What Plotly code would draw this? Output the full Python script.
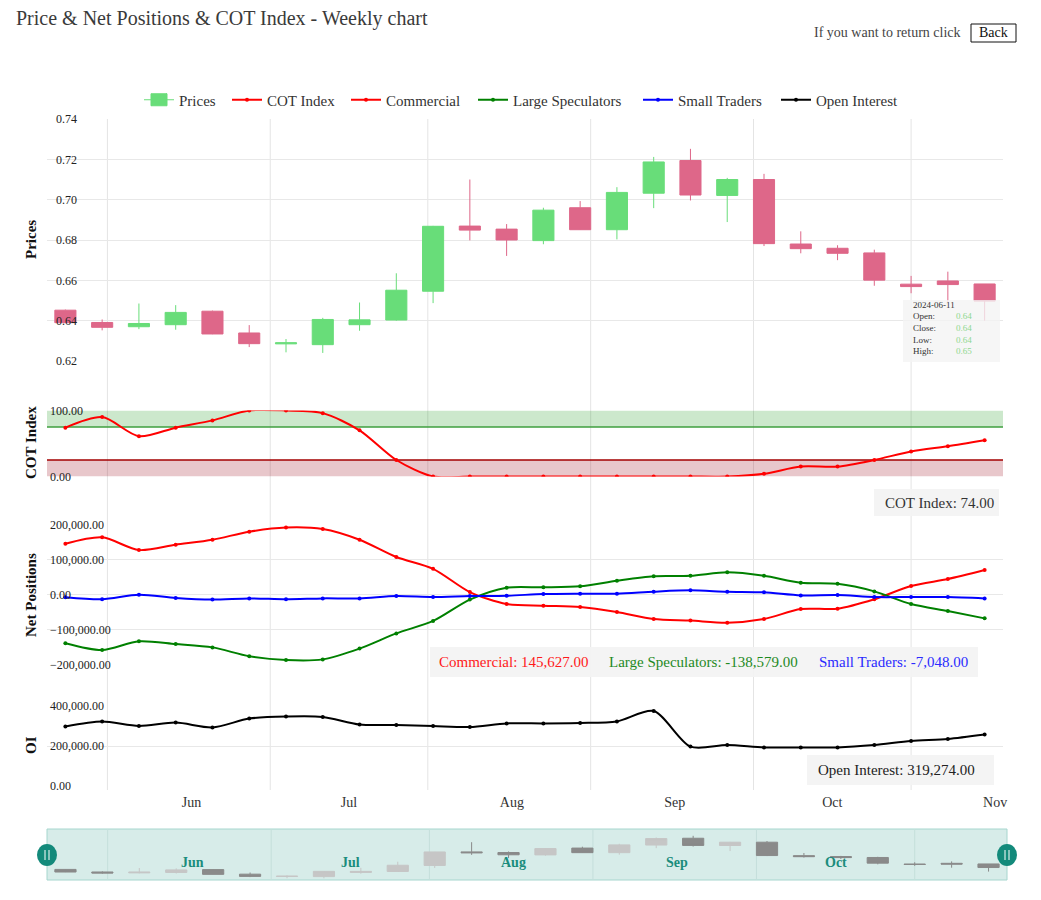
import plotly.graph_objects as go

W, H = 1041, 900
FONT = "Liberation Serif"

# ---------------- data ----------------
dates = ["2024-05-08", "2024-05-15", "2024-05-22", "2024-05-29", "2024-06-05", "2024-06-12",
         "2024-06-19", "2024-06-26", "2024-07-03", "2024-07-10", "2024-07-17", "2024-07-24",
         "2024-07-31", "2024-08-07", "2024-08-14", "2024-08-21", "2024-08-28", "2024-09-04",
         "2024-09-11", "2024-09-18", "2024-09-25", "2024-10-02", "2024-10-09", "2024-10-16",
         "2024-10-23", "2024-10-30"]

price_open = [0.6452, 0.6391, 0.6370, 0.6380, 0.6447, 0.6339, 0.6285, 0.6281, 0.6380, 0.6403,
              0.6546, 0.6869, 0.6854, 0.6797, 0.6960, 0.6851, 0.7032, 0.7194, 0.7021, 0.7100,
              0.6780, 0.6759, 0.6736, 0.6581, 0.6597, 0.6582]
price_close = [0.6390, 0.6367, 0.6386, 0.6441, 0.6334, 0.6286, 0.6290, 0.6406, 0.6404, 0.6551,
               0.6868, 0.6849, 0.6800, 0.6948, 0.6851, 0.7036, 0.7187, 0.7023, 0.7100, 0.6782,
               0.6757, 0.6734, 0.6601, 0.6569, 0.6579, 0.6497]
price_high = [0.6455, 0.6406, 0.6485, 0.6477, 0.6450, 0.6378, 0.6309, 0.6414, 0.6490, 0.6635,
              0.6870, 0.7100, 0.6879, 0.6960, 0.6993, 0.7062, 0.7212, 0.7252, 0.7108, 0.7128,
              0.6843, 0.6774, 0.6752, 0.6622, 0.6643, 0.6582]
price_low = [0.6388, 0.6352, 0.6358, 0.6355, 0.6333, 0.6269, 0.6243, 0.6240, 0.6350, 0.6400,
             0.6487, 0.6798, 0.6721, 0.6779, 0.6850, 0.6803, 0.6958, 0.6996, 0.6889, 0.6770,
             0.6734, 0.6700, 0.6573, 0.6536, 0.6493, 0.6400]

cot_index = [74, 90, 61, 74, 85, 100, 100, 96, 70, 25, 0, 0, 0, 0, 0, 0, 0, 0, 0,
             4, 15, 15, 25, 38, 46, 55]

commercial = [145627, 163800, 127600, 142900, 157000, 180000, 192000, 187600, 157000, 107600,
              74000, 7600, -26700, -31400, -35000, -49500, -69500, -74000, -80000, -69500,
              -41000, -40000, -13000, 24800, 44800, 70500]
large_spec = [-138579, -158000, -133000, -141000, -150500, -176000, -186700, -184800, -154000,
              -110500, -75000, -14000, 20000, 21000, 24000, 40000, 53000, 54000, 64000, 54000,
              34000, 31000, 9500, -26700, -46700, -67600]
small_traders = [-7048, -13000, 0, -9500, -14000, -10500, -13000, -10500, -10500, -4000, -6700,
                 -4000, -3000, 2000, 3000, 3000, 8600, 12400, 8600, 6700, -2000, -1000, -6700,
                 -6700, -6700, -10500]
open_interest = [298000, 322000, 300000, 317000, 293000, 337000, 347000, 345000, 307000, 305000,
                 300000, 295000, 313000, 313000, 315000, 323000, 375000, 197000, 205000, 193000,
                 193000, 193000, 205000, 225000, 235000, 257000]

month_ticks = ["2024-06-01", "2024-07-01", "2024-08-01", "2024-09-01", "2024-10-01", "2024-11-01"]
month_labels = ["Jun", "Jul", "Aug", "Sep", "Oct", "Nov"]
grid_dates = ["2024-05-16", "2024-06-16", "2024-07-16", "2024-08-16", "2024-09-16", "2024-10-16"]

price_ticks = [0.62, 0.64, 0.66, 0.68, 0.70, 0.72, 0.74]
net_ticks = [-200000, -100000, 0, 100000, 200000]
oi_ticks = [0, 200000, 400000]

# ---------------- helpers ----------------
def PX(p):
    return p / W

def PY(p):
    return 1 - p / H

GREEN = "#68dd79"
PINK = "#de6789"
XR = ["2024-05-04 12:00", "2024-11-02 12:00"]

fig = go.Figure()

fig.add_trace(go.Candlestick(
    x=dates, open=price_open, high=price_high, low=price_low, close=price_close,
    name="Prices", xaxis="x", yaxis="y", whiskerwidth=0, hoverinfo="skip", showlegend=False,
    increasing=dict(fillcolor=GREEN, line=dict(color=GREEN, width=1)),
    decreasing=dict(fillcolor=PINK, line=dict(color=PINK, width=1)),
))

# legend-only entry for Prices (all green icon), placed outside the slider's visible range
fig.add_trace(go.Candlestick(
    x=["2020-01-01"], open=[0.65], high=[0.66], low=[0.64], close=[0.655],
    name="Prices", xaxis="x5", yaxis="y5", whiskerwidth=0, hoverinfo="skip", legend="legend",
    increasing=dict(fillcolor=GREEN, line=dict(color=GREEN, width=1)),
    decreasing=dict(fillcolor=GREEN, line=dict(color=GREEN, width=1)),
))


def line_trace(y, name, color, xa, ya, leg):
    return go.Scatter(
        x=dates, y=y, name=name, mode="lines+markers", xaxis=xa, yaxis=ya, legend=leg,
        line=dict(color=color, width=2, shape="spline", smoothing=0.8),
        marker=dict(size=4, color=color), hoverinfo="skip",
    )

fig.add_trace(line_trace(cot_index, "COT Index", "#ff0000", "x2", "y2", "legend2"))
fig.add_trace(line_trace(commercial, "Commercial", "#ff0000", "x3", "y3", "legend3"))
fig.add_trace(line_trace(large_spec, "Large Speculators", "#008000", "x3", "y3", "legend4"))
fig.add_trace(line_trace(small_traders, "Small Traders", "#0000ff", "x3", "y3", "legend5"))
fig.add_trace(line_trace(open_interest, "Open Interest", "#000000", "x4", "y4", "legend6"))

# mini candles in the zoom slider
fig.add_trace(go.Candlestick(
    x=dates, open=price_open, high=price_high, low=price_low, close=price_close,
    name="slider", xaxis="x5", yaxis="y5", whiskerwidth=0, hoverinfo="skip", showlegend=False,
    increasing=dict(fillcolor="#c6c6c6", line=dict(color="#c6c6c6", width=1)),
    decreasing=dict(fillcolor="#8a8a8a", line=dict(color="#8a8a8a", width=1)),
))

xdom = [PX(47), PX(1003)]
common_x = dict(domain=xdom, range=XR, type="date", showgrid=False, zeroline=False,
                showline=False, ticks="", rangeslider=dict(visible=False))
ytick_font = dict(family=FONT, size=12, color="#222")
common_y = dict(zeroline=False, showline=False, ticks="", ticklabelposition="inside",
                ticklabeloverflow="allow", tickfont=ytick_font, gridcolor="#e8e8e8", gridwidth=1)

legend_font = dict(family=FONT, size=15, color="#333")
legend_x = [139, 227, 346, 473, 638, 776]   # left edges (px) of each legend entry
legends = {}
for i, lx in enumerate(legend_x):
    key = "legend" if i == 0 else f"legend{i + 1}"
    legends[key] = dict(orientation="h", x=PX(lx), xref="container", xanchor="left",
                        y=PY(100), yref="container", yanchor="middle", font=legend_font,
                        bgcolor="rgba(0,0,0,0)", borderwidth=0)

layout = dict(
    width=W, height=H, margin=dict(l=0, r=0, t=0, b=0, autoexpand=False),
    paper_bgcolor="white", plot_bgcolor="rgba(0,0,0,0)",
    font=dict(family=FONT, color="#333"),
    boxgap=0.18,
    showlegend=True,
    title=dict(text="Price & Net Positions & COT Index - Weekly chart", x=PX(16), xref="container",
               xanchor="left", y=PY(18), yref="container", yanchor="middle",
               font=dict(family=FONT, size=20, color="#3a3a3a")),
    xaxis=dict(common_x, anchor="y", showticklabels=False),
    xaxis2=dict(common_x, anchor="y2", matches="x", showticklabels=False),
    xaxis3=dict(common_x, anchor="y3", matches="x", showticklabels=False),
    xaxis4=dict(common_x, anchor="y4", matches="x", tickmode="array", tickvals=month_ticks,
                ticktext=month_labels, ticklabelstandoff=6,
                tickfont=dict(family=FONT, size=14, color="#333")),
    xaxis5=dict(common_x, domain=[PX(47), PX(1007)], anchor="y5", showticklabels=False),
    yaxis=dict(common_y, domain=[PY(361), PY(119)], range=[0.62, 0.74], anchor="x",
               tickmode="array", tickvals=price_ticks, tickformat=".2f", showgrid=True,
               ticklabelstandoff=6),
    yaxis2=dict(common_y, domain=[PY(476.5), PY(410.5)], range=[0, 100], anchor="x2",
                tickmode="array", tickvals=[0, 100], tickformat=".2f", showgrid=False),
    yaxis3=dict(common_y, domain=[PY(664.7), PY(524.7)], range=[-200000, 200000], anchor="x3",
                tickmode="array", tickvals=net_ticks, tickformat=",.2f", showgrid=True),
    yaxis4=dict(common_y, domain=[PY(786), PY(706)], range=[0, 400000], anchor="x4",
                tickmode="array", tickvals=oi_ticks, tickformat=",.2f", showgrid=True),
    yaxis5=dict(domain=[PY(880), PY(829)], range=[0.62, 0.7414], anchor="x5",
                showgrid=False, zeroline=False, showticklabels=False, ticks=""),
)
layout.update(legends)
fig.update_layout(**layout)

shapes = []
# vertical grid lines
for d in grid_dates:
    shapes.append(dict(type="line", xref="x4", yref="paper", x0=d, x1=d, y0=PY(790), y1=PY(119),
                       line=dict(color="#e4e4e4", width=1), layer="below"))
# COT bands
shapes.append(dict(type="rect", xref="x2 domain", yref="y2", x0=0, x1=1, y0=75, y1=100,
                   fillcolor="rgba(0,140,0,0.2)", line=dict(width=0), layer="below"))
shapes.append(dict(type="line", xref="x2 domain", yref="y2", x0=0, x1=1, y0=75, y1=75,
                   line=dict(color="#3f9f3f", width=1.5), layer="below"))
shapes.append(dict(type="rect", xref="x2 domain", yref="y2", x0=0, x1=1, y0=0, y1=25,
                   fillcolor="rgba(150,0,20,0.22)", line=dict(width=0), layer="below"))
shapes.append(dict(type="line", xref="x2 domain", yref="y2", x0=0, x1=1, y0=25, y1=25,
                   line=dict(color="#a30000", width=1.5), layer="below"))


def box(x0, y0, x1, y1, fill="rgba(243,243,243,0.92)"):
    return dict(type="rect", xref="paper", yref="paper", x0=PX(x0), x1=PX(x1), y0=PY(y1), y1=PY(y0),
                fillcolor=fill, line=dict(width=0), layer="above")

shapes.append(box(903, 300, 1000, 362, fill="rgba(243,243,243,0.78)"))
shapes.append(box(874, 489, 999, 516))
shapes.append(box(430, 647, 978, 677))
shapes.append(box(807, 755, 994, 785))

# Back button
shapes.append(dict(type="rect", xref="paper", yref="paper", x0=PX(971), x1=PX(1016),
                   y0=PY(42), y1=PY(24), line=dict(color="#111", width=1), fillcolor="white",
                   layer="below"))

# slider background
shapes.append(dict(type="rect", xref="paper", yref="paper", x0=PX(47), x1=PX(1007),
                   y0=PY(880), y1=PY(829), fillcolor="#d7ece9",
                   line=dict(color="#a6d6ce", width=1), layer="below"))
for d in grid_dates:
    shapes.append(dict(type="line", xref="x5", yref="paper", x0=d, x1=d, y0=PY(880), y1=PY(829),
                       line=dict(color="#c4dfdb", width=1), layer="below"))
# slider handles
for cx in (47, 1007):
    shapes.append(dict(type="circle", xref="paper", yref="paper", x0=PX(cx - 10), x1=PX(cx + 10),
                       y0=PY(866), y1=PY(844), fillcolor="#138a7b", line=dict(width=0),
                       layer="above"))
    for dx in (-2, 2):
        shapes.append(dict(type="line", xref="paper", yref="paper", x0=PX(cx + dx), x1=PX(cx + dx),
                           y0=PY(860), y1=PY(850), line=dict(color="white", width=1),
                           layer="above"))

fig.update_layout(shapes=shapes)

ann = []

def text(x, y, s, size=15, color="#333", anchor="left", bold=False, angle=0):
    s2 = f"<b>{s}</b>" if bold else s
    ann.append(dict(x=PX(x), y=PY(y), xref="paper", yref="paper", text=s2,
                    showarrow=False, xanchor=anchor, yanchor="middle", textangle=angle,
                    font=dict(family=FONT, size=size, color=color)))

text(963, 33, "If you want to return click", size=14, color="#444", anchor="right")
text(993.5, 33, "Back", size=14, color="#111", anchor="center")

text(31, 240, "Prices", size=15, color="#111", anchor="center", bold=True, angle=-90)
text(31, 443, "COT Index", size=15, color="#111", anchor="center", bold=True, angle=-90)
text(31, 595, "Net Positions", size=15, color="#111", anchor="center", bold=True, angle=-90)
text(31, 745, "OI", size=15, color="#111", anchor="center", bold=True, angle=-90)

# price info box
text(911, 305, "2024-06-11", size=9, color="#333")
for lab, val, yy in (("Open:", "0.64", 316), ("Close:", "0.64", 328), ("Low:", "0.64", 340), ("High:", "0.65", 351)):
    text(911, yy, lab, size=9, color="#333")
    text(954, yy, val, size=9, color="#8fd88f")

text(883, 503, "COT Index: 74.00", size=15, color="#333")
text(437, 662, "Commercial: 145,627.00", size=15, color="#ff1a1a")
text(607, 662, "Large Speculators: -138,579.00", size=15, color="#1f8a1f")
text(817, 662, "Small Traders: -7,048.00", size=15, color="#2b2bff")
text(816, 770, "Open Interest: 319,274.00", size=15, color="#222")

# slider month labels
for d, lab in zip(month_ticks[:-1], month_labels[:-1]):
    ann.append(dict(x=d, y=PY(862), xref="x5", yref="paper", text=f"<b>{lab}</b>", showarrow=False,
                    xanchor="center", yanchor="middle",
                    font=dict(family=FONT, size=14, color="#1b8c7c")))

fig.update_layout(annotations=ann)

fig.write_html("out.html")
